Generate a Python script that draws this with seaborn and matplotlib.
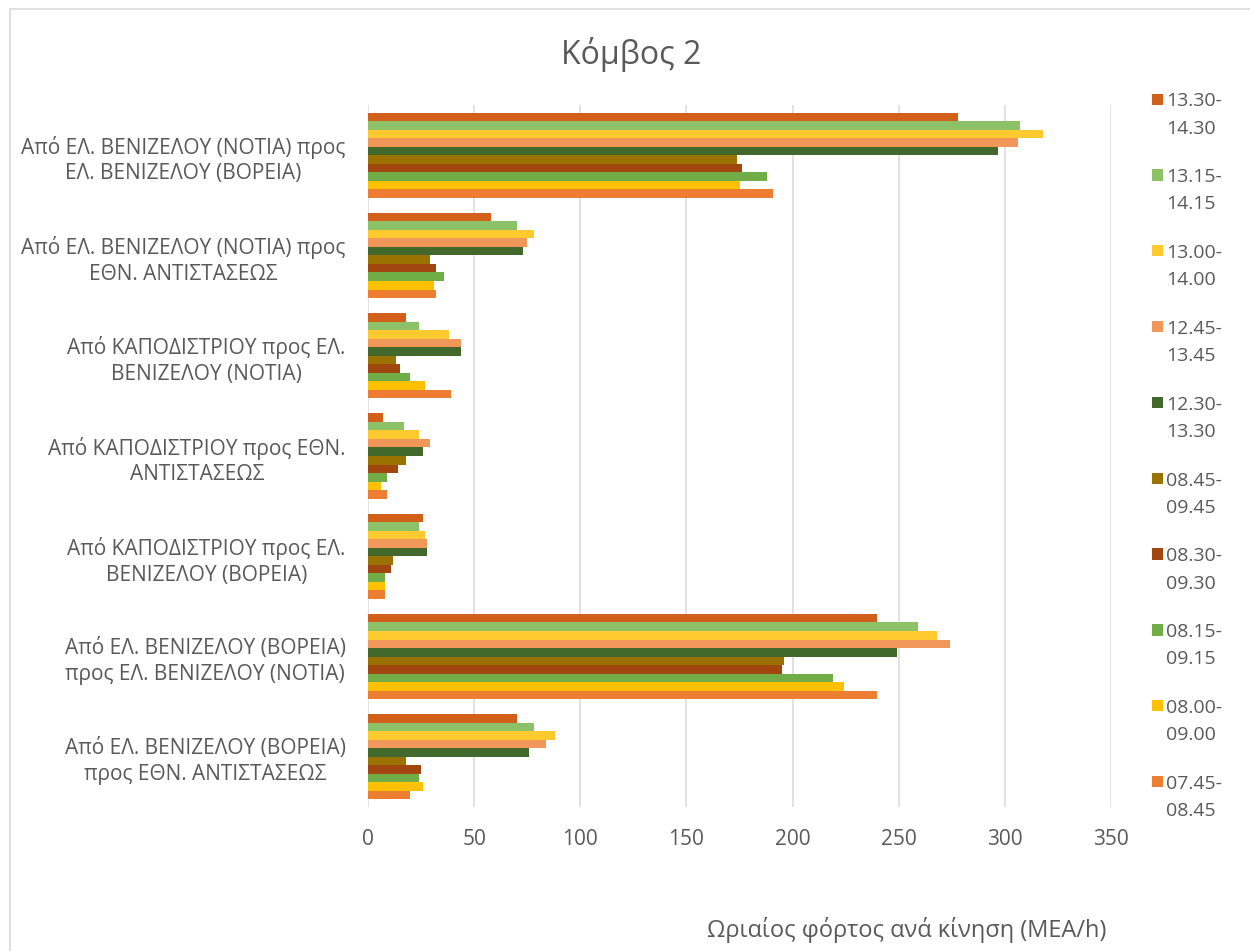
import numpy as np
import pandas as pd
import matplotlib
matplotlib.use("Agg")
import matplotlib.pyplot as plt
import seaborn as sns
from matplotlib.patches import Rectangle, Patch
from matplotlib.legend_handler import HandlerPatch

# ---------------- data ----------------
routes = [
    "Από ΕΛ. ΒΕΝΙΖΕΛΟΥ (ΝΟΤΙΑ) προς\nΕΛ. ΒΕΝΙΖΕΛΟΥ (ΒΟΡΕΙΑ)",
    "Από ΕΛ. ΒΕΝΙΖΕΛΟΥ (ΝΟΤΙΑ) προς\nΕΘΝ. ΑΝΤΙΣΤΑΣΕΩΣ",
    "Από ΚΑΠΟΔΙΣΤΡΙΟΥ προς ΕΛ.\nΒΕΝΙΖΕΛΟΥ (ΝΟΤΙΑ)",
    "Από ΚΑΠΟΔΙΣΤΡΙΟΥ προς ΕΘΝ.\nΑΝΤΙΣΤΑΣΕΩΣ",
    "Από ΚΑΠΟΔΙΣΤΡΙΟΥ προς ΕΛ.\nΒΕΝΙΖΕΛΟΥ (ΒΟΡΕΙΑ)",
    "Από ΕΛ. ΒΕΝΙΖΕΛΟΥ (ΒΟΡΕΙΑ)\nπρος ΕΛ. ΒΕΝΙΖΕΛΟΥ (ΝΟΤΙΑ)",
    "Από ΕΛ. ΒΕΝΙΖΕΛΟΥ (ΒΟΡΕΙΑ)\nπρος ΕΘΝ. ΑΝΤΙΣΤΑΣΕΩΣ",
]
periods = ["13.30-14.30", "13.15-14.15", "13.00-14.00", "12.45-13.45", "12.30-13.30",
           "08.45-09.45", "08.30-09.30", "08.15-09.15", "08.00-09.00", "07.45-08.45"]

v_1330 = [278, 58, 18, 7, 26, 240, 70]
v_1315 = [307, 70, 24, 17, 24, 259, 78]
v_1300 = [318, 78, 38, 24, 27, 268, 88]
v_1245 = [306, 75, 44, 29, 28, 274, 84]
v_1230 = [297, 73, 44, 26, 28, 249, 76]
v_0845 = [174, 29, 13, 18, 12, 196, 18]
v_0830 = [176, 32, 15, 14, 11, 195, 25]
v_0815 = [188, 36, 20, 9, 8, 219, 24]
v_0800 = [175, 31, 27, 6, 8, 224, 26]
v_0745 = [191, 32, 39, 9, 8, 240, 20]

series = [v_1330, v_1315, v_1300, v_1245, v_1230, v_0845, v_0830, v_0815, v_0800, v_0745]
colors = ["#D2601A", "#8DC167", "#FFCA30", "#F1975A", "#43682B",
          "#9A7200", "#A0460E", "#70AD47", "#FFC000", "#ED7D31"]

rows = []
for p, vals in zip(periods, series):
    for r, v in zip(routes, vals):
        rows.append({"route": r, "period": p, "value": v})
df = pd.DataFrame(rows)

# ---------------- style ----------------
sns.set_theme(style="white")
plt.rcParams["font.family"] = ["Open Sans", "DejaVu Sans"]
txt = "#595959"
grid = "#D9D9D9"

fig = plt.figure(figsize=(12.5, 9.51), dpi=100)
ax = fig.add_axes([368 / 1250, 1 - 807 / 951, 743 / 1250, 702 / 951])

sns.barplot(data=df, y="route", x="value", hue="period", order=routes,
            hue_order=periods, palette=colors, orient="h", width=0.85,
            saturation=1, linewidth=0, ax=ax, legend=False, errorbar=None)

ax.set_xlim(0, 350)
ax.set_xticks(np.arange(0, 351, 50))
ax.xaxis.grid(True, color=grid, linewidth=1.1)
ax.set_axisbelow(True)
for s in ax.spines.values():
    s.set_visible(False)
ax.tick_params(axis="both", length=0, colors=txt, labelsize=15)
ax.tick_params(axis="y", pad=16)
ax.tick_params(axis="x", pad=16)
for lab in ax.get_yticklabels():
    lab.set_multialignment("center")
    lab.set_linespacing(1.3)
ax.set_ylabel("")
ax.set_xlabel("Ωριαίος φόρτος ανά κίνηση (ΜΕΑ/h)", fontsize=17, color=txt)
ax.xaxis.set_label_coords((907 - 368) / 743, (807 - 917) / 702)

fig.text(631 / 1250, 1 - 55 / 951, "Κόμβος 2", ha="center", va="center",
         fontsize=23, color=txt)

# legend
handles = [Patch(facecolor=c, edgecolor="none") for c in colors]
labels = [p.replace("-", "-\n") for p in periods]


def square(legend, orig_handle, xdescent, ydescent, width, height, fontsize):
    s = 0.58 * fontsize
    return Rectangle((-xdescent, -ydescent + 0.85 * fontsize), s, s)


leg = fig.legend(handles, labels, loc="upper left",
                 bbox_to_anchor=(1134 / 1250, 1 - 75 / 951),
                 frameon=False, fontsize=14, labelspacing=1.58,
                 handlelength=0.6, handleheight=0.6, handletextpad=0.15,
                 handler_map={Patch: HandlerPatch(patch_func=square)})
for t in leg.get_texts():
    t.set_color(txt)
    t.set_linespacing(1.65)

# chart area border
fig.patches.append(Rectangle((10 / 1250, -0.2), 1.5, 1 - 9 / 951 + 0.2,
                             transform=fig.transFigure, fill=False,
                             edgecolor=grid, linewidth=1.2))

fig.savefig("out.png", dpi=100)
